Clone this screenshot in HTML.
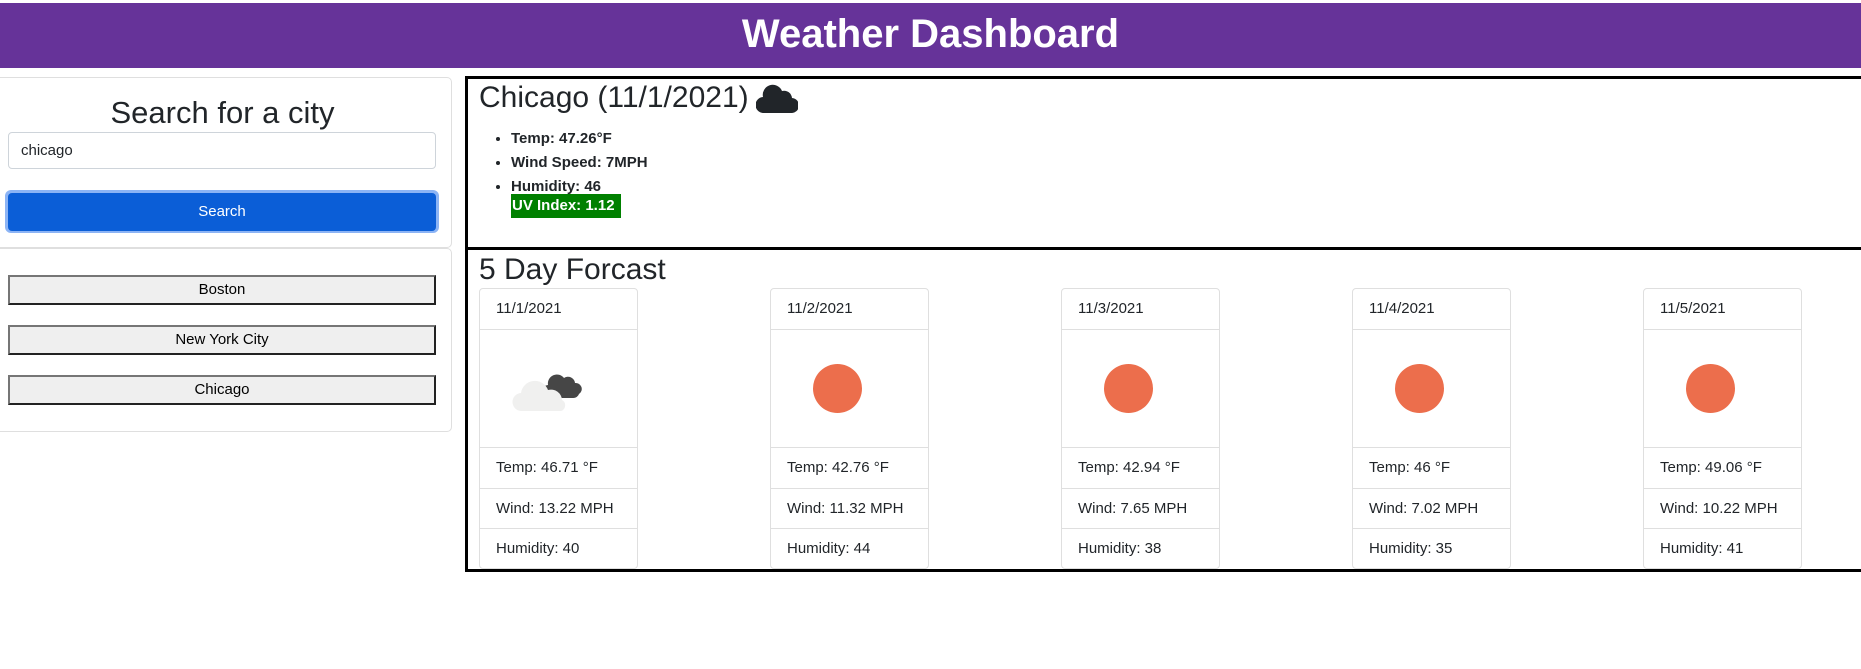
<!DOCTYPE html>
<html><head><meta charset="utf-8"><style>
*{box-sizing:border-box;margin:0;padding:0}
body{width:1861px;height:669px;position:relative;background:#fff;font-family:"Liberation Sans",sans-serif;color:#212529;overflow:hidden}
.a{position:absolute}
.hdr{left:0;top:3px;width:1861px;height:65px;background:#663399;color:#fff;font-weight:bold;font-size:40px;text-align:center;line-height:62px}
.card{border:1px solid #dfdfdf;border-radius:5px}
.cbtn{left:8px;width:428px;height:30px;background:#efefef;border:2px solid;border-color:#767676 #222 #222 #767676;font-size:15px;text-align:center;line-height:26px;color:#000}
.fc{width:159px;height:281px;border:1px solid #dfdfdf;border-radius:4px;font-size:15px}
.fc div{position:absolute;left:0;width:157px;border-top:1px solid #dfdfdf;padding-left:16px}
.sun{position:absolute;width:49px;height:49px;border-radius:50%;background:#ec6e4c}
.cur li{font-weight:bold;font-size:15px;height:24px;line-height:24px}
</style></head><body>
<div class="a hdr">Weather Dashboard</div>

<div class="a card" style="left:-5px;top:77px;width:457px;height:171px"></div>
<div class="a" style="left:0;top:93px;width:445px;text-align:center;font-size:31px;line-height:40px">Search for a city</div>
<div class="a" style="left:8px;top:132px;width:428px;height:37px;border:1px solid #ced4da;border-radius:4px;font-size:15px;line-height:35px;padding-left:12px">chicago</div>
<div class="a" style="left:5px;top:190px;width:434px;height:43px;border-radius:6px;background:#8cb4f5"></div>
<div class="a" style="left:8px;top:193px;width:428px;height:38px;border-radius:4px;background:#0b5ed7;color:#fff;font-size:15px;text-align:center;line-height:38px">Search</div>

<div class="a card" style="left:-5px;top:248px;width:457px;height:184px"></div>
<div class="a cbtn" style="top:275px">Boston</div>
<div class="a cbtn" style="top:325px">New York City</div>
<div class="a cbtn" style="top:375px">Chicago</div>

<div class="a" style="left:465px;top:76px;width:1400px;height:174px;border:3px solid #000;border-right:none"></div>
<div class="a" style="left:479px;top:78px;font-size:30px;line-height:40px">Chicago (11/1/2021)</div>
<svg class="a" style="left:756px;top:84px" width="42" height="29" viewBox="0 0 42 29"><path d="M8 29a8 8 0 0 1-1-16A10 10 0 0 1 26 7a8 8 0 0 1 10 7a7.5 7.5 0 0 1-1 15z" fill="#212529"/></svg>
<ul class="a cur" style="left:511px;top:127px;list-style:disc">
<li>Temp: 47.26°F</li>
<li>Wind Speed: 7MPH</li>
<li>Humidity: 46</li>
</ul>
<div class="a" style="left:511px;top:194px;width:110px;height:24px;background:#008000;color:#fff;font-weight:bold;font-size:15px;line-height:24px;padding-left:1px">UV Index: 1.12</div>

<div class="a" style="left:465px;top:247px;width:1400px;height:325px;border:3px solid #000;border-right:none"></div>
<div class="a" style="left:479px;top:252px;font-size:30px;line-height:36px">5 Day Forcast</div>

<div id="cards"></div>
<script>
const dates=["11/1/2021","11/2/2021","11/3/2021","11/4/2021","11/5/2021"];
const temps=["46.71","42.76","42.94","46","49.06"];
const winds=["13.22","11.32","7.65","7.02","10.22"];
const hums=["40","44","38","35","41"];
const icons=["cloud","sun","sun","sun","sun"];
const host=document.getElementById('cards');
dates.forEach((d,i)=>{
  const c=document.createElement('div');
  c.className='a fc';
  c.style.left=(479+i*291)+'px';c.style.top='288px';
  
  
  const rows=[[0,d,40,'border-top:none'],[40,'',118,''],[158,'Temp: '+temps[i]+' °F',41,''],[199,'Wind: '+winds[i]+' MPH',40,''],[239,'Humidity: '+hums[i],41,'']];
  const names=['date','icon','temp','wind','humidity'];
  rows.forEach((r,k)=>{
    const e=document.createElement('div');
    e.style.cssText='top:'+r[0]+'px;height:'+r[2]+'px;line-height:'+(r[2]-1)+'px;'+r[3];
    e.textContent=r[1];
    
    
    if(k===1){
      if(icons[i]==='sun'){
        const s=document.createElement('span');s.className='sun';s.style.left='42px';s.style.top='34px';
        
        
        e.appendChild(s);
      }else{
        e.innerHTML='<svg style="position:absolute;left:32px;top:37px" width="72" height="45" viewBox="0 0 72 45"><path d="M33 31a7 7 0 0 1 3-13a9 9 0 0 1 16-7a7 7 0 0 1 11 5a6 6 0 0 1 4 11a6 6 0 0 1-6 4z" fill="#464646"/><path d="M10 44a9 9 0 0 1-1-18a14 14 0 0 1 27-3a11 11 0 0 1 14 10a6 6 0 0 1-1 11z" fill="#f0f0ef"/></svg>';
      }
    }
    c.appendChild(e);
  });
  host.appendChild(c);
});
</script>
</body></html>
